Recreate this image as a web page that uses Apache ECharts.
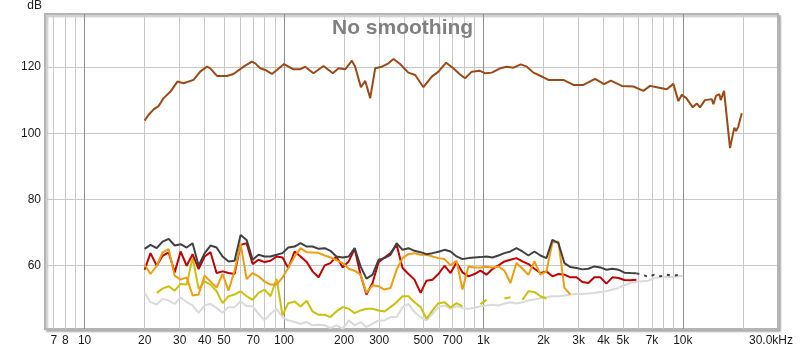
<!DOCTYPE html>
<html>
<head>
<meta charset="utf-8">
<script src="https://cdn.jsdelivr.net/npm/echarts@6/dist/echarts.min.js"></script>
<style>html,body{margin:0;padding:0;background:#fff;}#c{width:800px;height:350px;}</style>
</head>
<body>
<div id="c"></div>
<script>
// ---- data ----
var brownFreq = [20, 20.9, 22.2, 23.5, 24.9, 26.9, 29.2, 31.3, 35.2, 38, 41.1, 42.7, 46.1, 51.7, 55.8, 62.7, 69, 71.7, 76, 80.5, 86.9, 92.1, 100, 111.6, 120.5, 127.6, 140.5, 157.8, 175.8, 187.6, 202.7, 218.8, 227.4, 243, 255.4, 270.5, 286.5, 309.6, 334, 354, 382, 420, 455, 500, 551, 595, 650, 707, 758, 809, 875, 955, 1020, 1102, 1212, 1310, 1414, 1540, 1650, 1781, 2000, 2118, 2518, 2826, 3171, 3630, 4027, 4352, 4941, 5648, 6339, 6847, 7396, 8303, 8963, 9493, 9874, 10410, 11210, 11740, 12190, 12910, 13960, 14230, 14670, 15240, 15490, 16090, 17240, 17580, 18120, 18480, 18970, 19740];
var brownDb = [103.8, 105.5, 107.2, 108.2, 110.6, 112.5, 115.6, 115.1, 116.1, 118.6, 120.1, 119.6, 117.3, 117.3, 117.9, 120.1, 121.6, 121.1, 119.6, 119.1, 117.9, 119.1, 120.9, 119.3, 119.3, 120.1, 118.1, 120.3, 118.1, 119.6, 119.3, 121.9, 120.1, 113.9, 115.8, 110.6, 119.6, 120.1, 121.1, 122.4, 120.9, 118.3, 117.6, 113.9, 117.1, 118.6, 121.3, 119.6, 117.9, 116.6, 118.6, 118.9, 118.1, 118.3, 119.6, 120.1, 119.8, 120.8, 120.1, 118.3, 116.9, 116.1, 116.1, 114.6, 114.6, 116.4, 114.8, 115.9, 114.3, 114.1, 112.8, 114.3, 113.9, 113.3, 114.9, 109.7, 111.6, 110.6, 107.8, 109.0, 107.8, 110.0, 110.3, 108.8, 111.3, 111.8, 110.0, 112.8, 95.5, 98.0, 101.7, 100.7, 102.0, 106.0];

var freqs = [20, 21.4, 23, 24.6, 26.4, 28.3, 30.3, 32.5, 34.8, 37.3, 40, 42.8, 45.9, 49.2, 52.7, 56.5, 60.6, 64.9, 69.6, 74.5, 79.9, 85.6, 91.8, 98.3, 105, 113, 121, 130, 139, 149, 160, 171, 183, 197, 211, 226, 242, 259, 278, 298, 319, 342, 367, 393, 421, 451, 484, 518, 555, 595, 638, 684, 733, 785, 841, 902, 966, 1036, 1110, 1189, 1275, 1366, 1464, 1569, 1681, 1802, 1931, 2070, 2218, 2377, 2547, 2730, 2926, 3136, 3360, 3601, 3859, 4136, 4433, 4751, 5091, 5456, 5848, 6267, 6716, 7198, 7714, 8267, 8860, 9495, 10000];

var darkDb = [65.1, 66.3, 65.3, 67.3, 68.1, 66.1, 66.5, 65.5, 66.8, 60.0,
  63.8, 66.1, 65.5, 62.8, 61.3, 61.5, 69.3, 67.8, 61.8, 63.3,
  62.8, 62.8, 63.3, 63.8, 65.5, 65.8, 66.8, 65.8, 65.8, 65.1,
  65.3, 64.5, 62.8, 62.5, 62.8, 65.3, 59.8, 56.1, 57.3, 61.8,
  62.3, 63.3, 66.8, 64.8, 65.3, 64.5, 64.1, 63.5, 63.8, 64.2,
  64.8, 64.3, 62.8, 62.0, 62.3, 62.5, 62.6, 62.8, 62.5, 63.1,
  63.8, 64.3, 65.3, 64.3, 63.1, 64.3, 63.1, 62.3, 67.8, 66.8,
  60.8, 59.6, 59.3, 58.9, 59.1, 59.8, 59.5, 58.8, 59.1, 58.8,
  57.9, 57.8, 57.7, null, null, null, null, null, null, null, null];
var darkTailDb = [null, null, null, null, null, null, null, null, null, null,
  null, null, null, null, null, null, null, null, null, null,
  null, null, null, null, null, null, null, null, null, null,
  null, null, null, null, null, null, null, null, null, null,
  null, null, null, null, null, null, null, null, null, null,
  null, null, null, null, null, null, null, null, null, null,
  null, null, null, null, null, null, null, null, null, null,
  null, null, null, null, null, null, null, null, null, null,
  null, null, 57.7, 57.3, 56.6, 57.3, 56.8, 57.3, 57.0, 57.2, null];
var redDb = [58.8, 63.8, 60.0, 63.0, 64.0, 58.0, 64.3, 60.0, 63.5, 59.0,
  62.8, 64.1, 57.8, 58.3, 57.8, 57.5, 66.3, 66.8, 60.5, 61.8,
  61.1, 61.5, 62.8, 62.5, 59.3, 64.3, 62.8, 61.1, 58.3, 56.5,
  60.1, 60.8, 62.8, 59.5, 61.3, 65.1, 57.3, 51.3, 54.8, 61.1,
  62.5, 63.8, 66.3, 59.3, 57.5, 55.8, 51.8, 55.5, 55.8, 57.5,
  60.0, 57.8, 61.0, 58.0, 56.8, 57.5, 58.5, 57.3, 59.0, 60.1,
  61.3, 61.8, 62.3, 61.3, 60.5, 59.1, 57.8, 58.3, 56.8, 57.5,
  57.3, 56.5, 56.5, 55.1, 54.8, 56.5, 56.5, 54.6, 56.5, 56.3,
  55.7, 55.6, 55.8, null, null, null, null, null, null, null, null];
var orangeDb = [60.3, 57.5, 60.0, 64.0, 65.0, 57.0, 55.8, 56.5, 51.0, 51.3,
  57.0, 55.2, 53.4, 57.5, 52.5, 58.5, 66.5, 56.0, 57.8, 56.8,
  55.2, 54.3, 54.3, 56.5, 59.3, 62.8, 65.3, 64.1, 64.0, 63.9,
  63.1, 62.5, 61.7, 60.8, 59.1, 58.5, 57.3, 51.8, 54.1, 53.8,
  52.8, 53.3, 58.8, 62.3, 63.5, 63.8, 63.3, 63.3, 62.8, 62.3,
  62.0, 60.1, 61.5, 52.8, 59.8, 59.5, 59.5, 59.7, 59.5, 59.8,
  58.5, 54.8, 60.8, 59.1, 57.3, 61.3, 57.3, 58.3, 67.0, 67.3,
  53.3, 51.3, null, null, null, null, null, null, null, null,
  null, null, null, null, null, null, null, null, null, null, null];
var yellowDb = [null, null, 51.8, 53.1, 53.8, 52.5, 54.5, 54.3, 62.5, 53.0,
  55.3, 54.3, 52.3, 48.7, 50.8, 51.3, 52.3, 50.8, 49.7, 51.8,
  52.8, 50.8, 56.0, 45.0, 48.7, 49.2, 47.7, 49.4, 46.2, 45.2,
  45.2, 44.5, 46.2, 47.5, 47.0, 45.7, 46.5, 47.0, 47.0, 46.5,
  46.2, 47.5, 49.0, 50.8, 50.8, 49.0, 47.5, 44.0, 46.5, 48.7,
  49.0, 47.4, 48.7, 47.7, null, null, 48.4, 49.7, null, null,
  50.1, 50.5, null, 49.7, 52.3, 52.1, 50.8, 50.1, null, null,
  null, null, null, null, null, null, null, null, null, null,
  null, null, null, null, null, null, null, null, null, null, null];
var lightDb = [51.8, 49.0, 48.3, 50.0, 49.5, 48.5, 50.5, 49.0, 48.0, 45.8,
  48.0, 48.5, 47.2, 45.8, 47.5, 47.5, 49.2, 47.8, 47.8, 45.5,
  43.5, 45.5, 47.0, 44.5, 43.5, 43.0, 42.5, 43.0, 42.0, 42.2,
  42.0, 41.2, 42.0, 41.0, 43.5, 42.0, 43.0, 41.5, 42.5, 43.5,
  43.5, 44.5, 44.5, 47.5, 48.5, 46.0, 44.5, 43.5, 45.5, 47.5,
  48.0, 47.0, 47.8, 47.2, 47.0, 47.3, 47.8, 48.0, 48.2, 48.0,
  48.6, 49.0, 48.6, 49.0, 49.5, 49.8, 50.2, 50.5, 50.8, 50.8,
  51.0, 51.3, 51.5, 51.5, 51.6, 51.8, 52.1, 52.3, 52.8, 53.3,
  54.1, 54.8, 55.1, 55.3, 55.5, 56.3, 56.5, 56.7, 56.6, 56.8, 56.9];

var xGridValues = [7, 8, 9, 10, 20, 30, 40, 50, 60, 70, 80, 90, 100, 200, 300, 400, 500, 600, 700, 800, 900,
  1000, 2000, 3000, 4000, 5000, 6000, 7000, 8000, 9000, 10000, 20000];
var xLabelValues = [7, 8, 10, 20, 30, 40, 50, 70, 100, 200, 300, 500, 700, 1000, 2000, 3000, 4000, 5000, 7000, 10000, 30000];
var yLabelValues = [60, 80, 100, 120];

function pairs(xs, ys) {
  var out = [];
  for (var i = 0; i < xs.length; i++) out.push([xs[i], ys[i] == null ? null : ys[i]]);
  return out;
}
function lineSeries(name, ys, color, extra) {
  var s = {
    name: name, type: 'line', data: pairs(freqs, ys), showSymbol: false, symbol: 'none',
    connectNulls: false, lineStyle: { color: color, width: 2 }, itemStyle: { color: color },
    silent: true, animation: false
  };
  if (extra) for (var k in extra) s[k] = extra[k];
  return s;
}

var gridColors = ['#c8c8c8', '#c8c8c8', '#c8c8c8', '#8e8e8e', '#c8c8c8', '#c8c8c8', '#c8c8c8', '#c8c8c8', '#c8c8c8'];

var chart = echarts.init(document.getElementById('c'), null, { renderer: 'canvas' });
chart.setOption({
  animation: false,
  backgroundColor: '#ffffff',
  textStyle: { fontFamily: 'Liberation Sans, Arial, sans-serif' },
  title: {
    text: 'No smoothing', left: 327, top: 13,
    textStyle: { fontSize: 21, fontWeight: 'bold', color: '#808080', fontFamily: 'Liberation Sans' }
  },
  grid: {
    left: 45, right: 22, top: 14, bottom: 21, show: true,
    borderColor: '#b4b4b4', borderWidth: 2, backgroundColor: '#ffffff',
    shadowColor: 'rgba(0,0,0,0.25)', shadowBlur: 2, shadowOffsetX: 2, shadowOffsetY: 2
  },
  xAxis: {
    type: 'log', logBase: 10, min: 6.33, max: 30000,
    axisLine: { show: false },
    axisTick: { show: false, customValues: xGridValues },
    splitLine: { show: true, lineStyle: { color: gridColors, width: 1 } },
    axisLabel: {
      customValues: xLabelValues, margin: 6, fontSize: 12, color: '#1a1a1a',
      formatter: function (v) {
        if (v >= 30000) return '{r|30.0kHz}';
        if (v >= 1000) return (v / 1000) + 'k';
        return String(v);
      },
      rich: { r: { fontSize: 12, color: '#1a1a1a', padding: [0, 14, 0, 0] } }
    }
  },
  yAxis: {
    type: 'value', min: 40.9, max: 136,
    name: 'dB', nameLocation: 'end', nameGap: 2,
    nameTextStyle: { fontSize: 12, color: '#1a1a1a', align: 'right', padding: [0, 3, 0, 0] },
    axisLine: { show: false },
    axisTick: { show: false, customValues: yLabelValues },
    splitLine: { show: true, lineStyle: { color: '#c8c8c8', width: 1 } },
    axisLabel: { customValues: yLabelValues, margin: 4, fontSize: 12, color: '#1a1a1a' }
  },
  series: [
    lineSeries('light', lightDb, '#dadada'),
    lineSeries('yellow', yellowDb, '#c9c10c'),
    lineSeries('red', redDb, '#c00000'),
    lineSeries('orange', orangeDb, '#ec9e10'),
    lineSeries('dark', darkDb, '#404040'),
    lineSeries('darkTail', darkTailDb, '#404040', { lineStyle: { color: '#404040', width: 2, type: [3, 5] } }),
    {
      name: 'brown', type: 'line', data: pairs(brownFreq, brownDb), showSymbol: false, symbol: 'none',
      lineStyle: { color: '#9a4a17', width: 2 }, itemStyle: { color: '#9a4a17' }, silent: true, animation: false
    }
  ]
});
</script>
</body>
</html>
